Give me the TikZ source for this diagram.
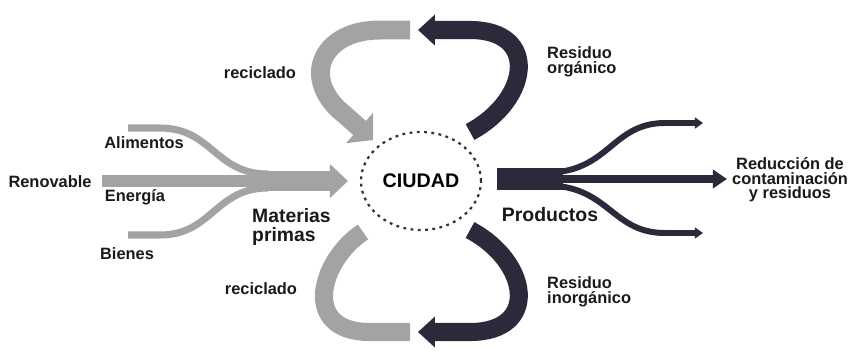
\documentclass[tikz,border=0pt]{standalone}
\usepackage{fontspec}
\setmainfont{Liberation Sans}
\usepackage{tikz}
\usetikzlibrary{shapes, arrows.meta}
\definecolor{lightband}{RGB}{163,163,163}
\definecolor{darkband}{RGB}{42,42,58}
\tikzset{
	lbl/.style={font=\bfseries\fontsize{14}{12.5}\selectfont, align=left, inner sep=0pt, text=black!90},
	bigl/.style={font=\bfseries\fontsize{16.5}{16}\selectfont, align=left, inner sep=0pt, text=black!90},
	gband/.style={draw=lightband, line width=#1},
	dband/.style={draw=darkband, line width=#1}
}

\begin{document}
\begin{tikzpicture}[x=0.03cm, y=-0.03cm]
		\useasboundingbox (0,0) rectangle (856,350);
		\node at (421,181) [ellipse, draw=black!80, line width=1.9pt, dash pattern=on 2.4pt off 3.8pt, minimum width=3.6cm, minimum height=2.94cm, inner sep=0pt, font=\bfseries\fontsize{16.8}{18}\selectfont] (C) {CIUDAD};
		\node at (50,182) [lbl] (ren) {Renovable};
		\node at (144,143) [lbl] (ali) {Alimentos};
		\node at (135,197) [lbl] (ene) {Energía};
		\node at (127,254) [lbl] (bie) {Bienes};
		\node at (252,227) [bigl, anchor=west] (mp) {Materias\\primas};
		\node at (550,215) [bigl, font=\bfseries\fontsize{16.6}{18}\selectfont] (prod) {Productos};
		\node at (790,180) [lbl, align=center] (red) {Reducción de\\contaminación\\y residuos};
		\node at (260,73) [lbl] (rec1) {reciclado};
		\node at (261,289) [lbl] (rec2) {reciclado};
		\node at (547,62) [lbl, anchor=west] (ro) {Residuo\\orgánico};
		\node at (547,292) [lbl, anchor=west] (ri) {Residuo\\inorgánico};

		\coordinate (gt0) at (410,30);
		\coordinate (gt1) at (373,140);
		\coordinate (dt0) at (470,132);
		\coordinate (dt1) at (418,30);
		\coordinate (gb0) at (363,232);
		\coordinate (gb1) at (410,332);
		\coordinate (db0) at (470,230);
		\coordinate (db1) at (418,332);
		\draw[gband=16.2pt, -{Triangle[length=15.4pt, width=34pt]}, lightband] (gt0) -- (380,30) .. controls (320,30) and (300,80) .. (345,115) -- (gt1);
		\draw[dband=15.4pt, -{Triangle[length=14.5pt, width=25.6pt]}, darkband] (dt0) .. controls (530,100) and (540,30) .. (470,30) -- (dt1);
		\draw[gband=15.4pt] (gb0) .. controls (320,260) and (300,332) .. (370,332) -- (gb1);
		\draw[dband=15.4pt, -{Triangle[length=14.5pt, width=25.6pt]}, darkband] (db0) .. controls (530,262) and (540,332) .. (470,332) -- (db1);

		\coordinate (in0) at (102,181);
		\coordinate (in1) at (348,181);
		\coordinate (al0) at (128,128);
		\coordinate (bi0) at (128,235);
		\draw[gband=10.2pt] (in0) -- (266,181);
		\draw[gband=6pt] (al0) -- (160,128) .. controls (212,128) and (215,174) .. (268,174);
		\draw[gband=6pt] (bi0) -- (160,235) .. controls (212,235) and (215,188) .. (268,188);
		\draw[gband=17.9pt, -{Triangle[length=15.4pt, width=28pt]}, lightband] (258,181) -- (in1);

		\coordinate (out0) at (560,179);
		\coordinate (out1) at (727,179);
		\coordinate (up1) at (703,123);
		\coordinate (dn1) at (703,233);
		\fill[darkband] (497,168) rectangle (563,190);
		\draw[dband=6.8pt, -{Triangle[length=12pt, width=15.4pt]}, darkband] (out0) -- (out1);
		\draw[dband=5.1pt, -{Triangle[length=7pt, width=9.4pt]}, darkband] (558,172) .. controls (610,166) and (615,123) .. (665,123) -- (up1);
		\draw[dband=5.1pt, -{Triangle[length=7pt, width=9.4pt]}, darkband] (558,186) .. controls (610,192) and (615,233) .. (665,233) -- (dn1);
		\end{tikzpicture}
\end{document}
